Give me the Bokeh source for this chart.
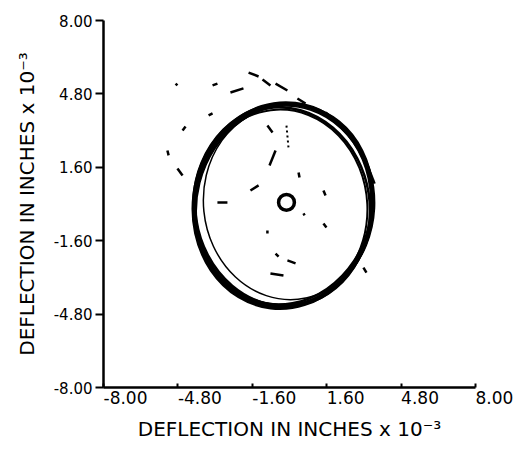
from bokeh.plotting import figure
from bokeh.models import FixedTicker, Range1d
from bokeh.embed import file_html
from bokeh.resources import INLINE

# Tick positions and their printed labels (deflection, inches x 10^-3)
tick_values = [-8.0, -4.8, -1.6, 1.6, 4.8, 8.0]
tick_labels = ["-8.00", "-4.80", "-1.60", "1.60", "4.80", "8.00"]

# Orbit loops traced by the shaft centre: centre, full width/height, tilt (rad)
loop_x = [-0.28, -0.30, -0.22, -0.35, -0.25, -0.05]
loop_y = [-0.07, -0.12, -0.02, -0.18, 0.00, 0.05]
loop_w = [7.66, 7.50, 7.55, 7.40, 7.80, 7.30]
loop_h = [8.92, 8.70, 8.80, 8.60, 8.80, 8.45]
loop_angle = [-0.12, 0.15, -0.25, 0.05, -0.05, 0.10]
loop_lw = [4.5, 2.5, 2.5, 2.0, 2.0, 1.5]

# Stray trace fragments scattered around the orbit
frag_x0 = [-1.76, -1.16, -0.60, 0.34, -3.31, -2.54, -4.90, -4.60, -5.25, -4.82,
           -3.48, -0.95, -0.60, -1.68, 0.39, 1.46, 1.46, -0.95, -0.60, -0.09,
           -3.10, 0.60, -0.82, 3.18, 3.27, 1.55]
frag_y0 = [5.73, 5.43, 5.25, 4.60, 5.17, 4.86, 5.25, 3.20, 2.33, 1.55,
           3.86, 3.42, 2.33, 0.59, 1.37, 0.59, -0.85, -1.15, -2.16, -2.46,
           0.07, -0.41, -3.03, -2.77, 1.90, 3.99]
frag_x1 = [-1.33, -0.82, -0.09, 0.69, -3.10, -1.98, -4.82, -4.47, -5.20, -4.60,
           -3.31, -0.73, -0.86, -1.33, 0.43, 1.55, 1.59, -0.95, -0.47, 0.26,
           -2.67, 0.65, -0.26, 3.31, 3.66, 1.98]
frag_y1 = [5.56, 5.17, 4.95, 4.38, 5.25, 5.04, 5.17, 3.38, 2.12, 1.24,
           3.95, 3.12, 1.68, 0.81, 1.16, 0.37, -1.02, -1.29, -2.29, -2.59,
           0.07, -0.50, -3.12, -2.99, 0.89, 3.64]

# Dotted radial trace above the centre
dot_x = [-0.13, -0.04]
dot_y = [3.42, 2.42]

# Small ring marking the bearing centre
centre_x = [-0.13]
centre_y = [0.07]
centre_r = 0.34

FONT = "DejaVu Sans"
AXIS_TITLE = "DEFLECTION IN INCHES x 10\u207b\u00b3"

p = figure(width=527, height=450, output_backend="svg", toolbar_location=None,
           x_range=Range1d(-8, 8), y_range=Range1d(-8, 8),
           min_border_left=103, min_border_right=52,
           min_border_top=20, min_border_bottom=63)
p.outline_line_color = None
p.grid.visible = False
p.background_fill_color = "white"
p.border_fill_color = "white"

p.ellipse(x=loop_x, y=loop_y, width=loop_w, height=loop_h, angle=loop_angle,
          fill_color=None, line_color="black", line_width=loop_lw)
p.segment(x0=frag_x0, y0=frag_y0, x1=frag_x1, y1=frag_y1,
          line_color="black", line_width=2.5)
p.line(x=dot_x, y=dot_y, line_color="black", line_width=2, line_dash="2 3")
p.circle(x=centre_x, y=centre_y, radius=centre_r, fill_color=None,
         line_color="black", line_width=3.5)

for ax in (p.xaxis[0], p.yaxis[0]):
    ax.ticker = FixedTicker(ticks=tick_values)
    ax.major_label_overrides = {v: s for v, s in zip(tick_values, tick_labels)}
    ax.minor_tick_line_color = None
    ax.axis_line_width = 2.5
    ax.axis_line_color = "black"
    ax.major_tick_line_color = "black"
    ax.major_tick_line_width = 2
    ax.major_label_text_font = FONT
    ax.major_label_text_color = "black"
    ax.axis_label = AXIS_TITLE
    ax.axis_label_text_font = FONT
    ax.axis_label_text_font_size = "20px"
    ax.axis_label_text_font_style = "normal"
    ax.axis_label_text_color = "black"

p.yaxis.major_label_text_font_size = "15px"
p.yaxis.major_tick_in = 0
p.yaxis.major_tick_out = 8
p.yaxis.major_label_standoff = 3
p.yaxis.axis_label_standoff = 12

# a hair below zero orientation anchors each x label at its left end
p.xaxis.major_label_orientation = -1e-6
p.xaxis.major_label_text_font_size = "17px"
p.xaxis.major_tick_in = 4
p.xaxis.major_tick_out = 0
p.xaxis.major_label_standoff = 10
p.xaxis.axis_label_standoff = 3

open("out.html", "w").write(file_html(p, INLINE))
